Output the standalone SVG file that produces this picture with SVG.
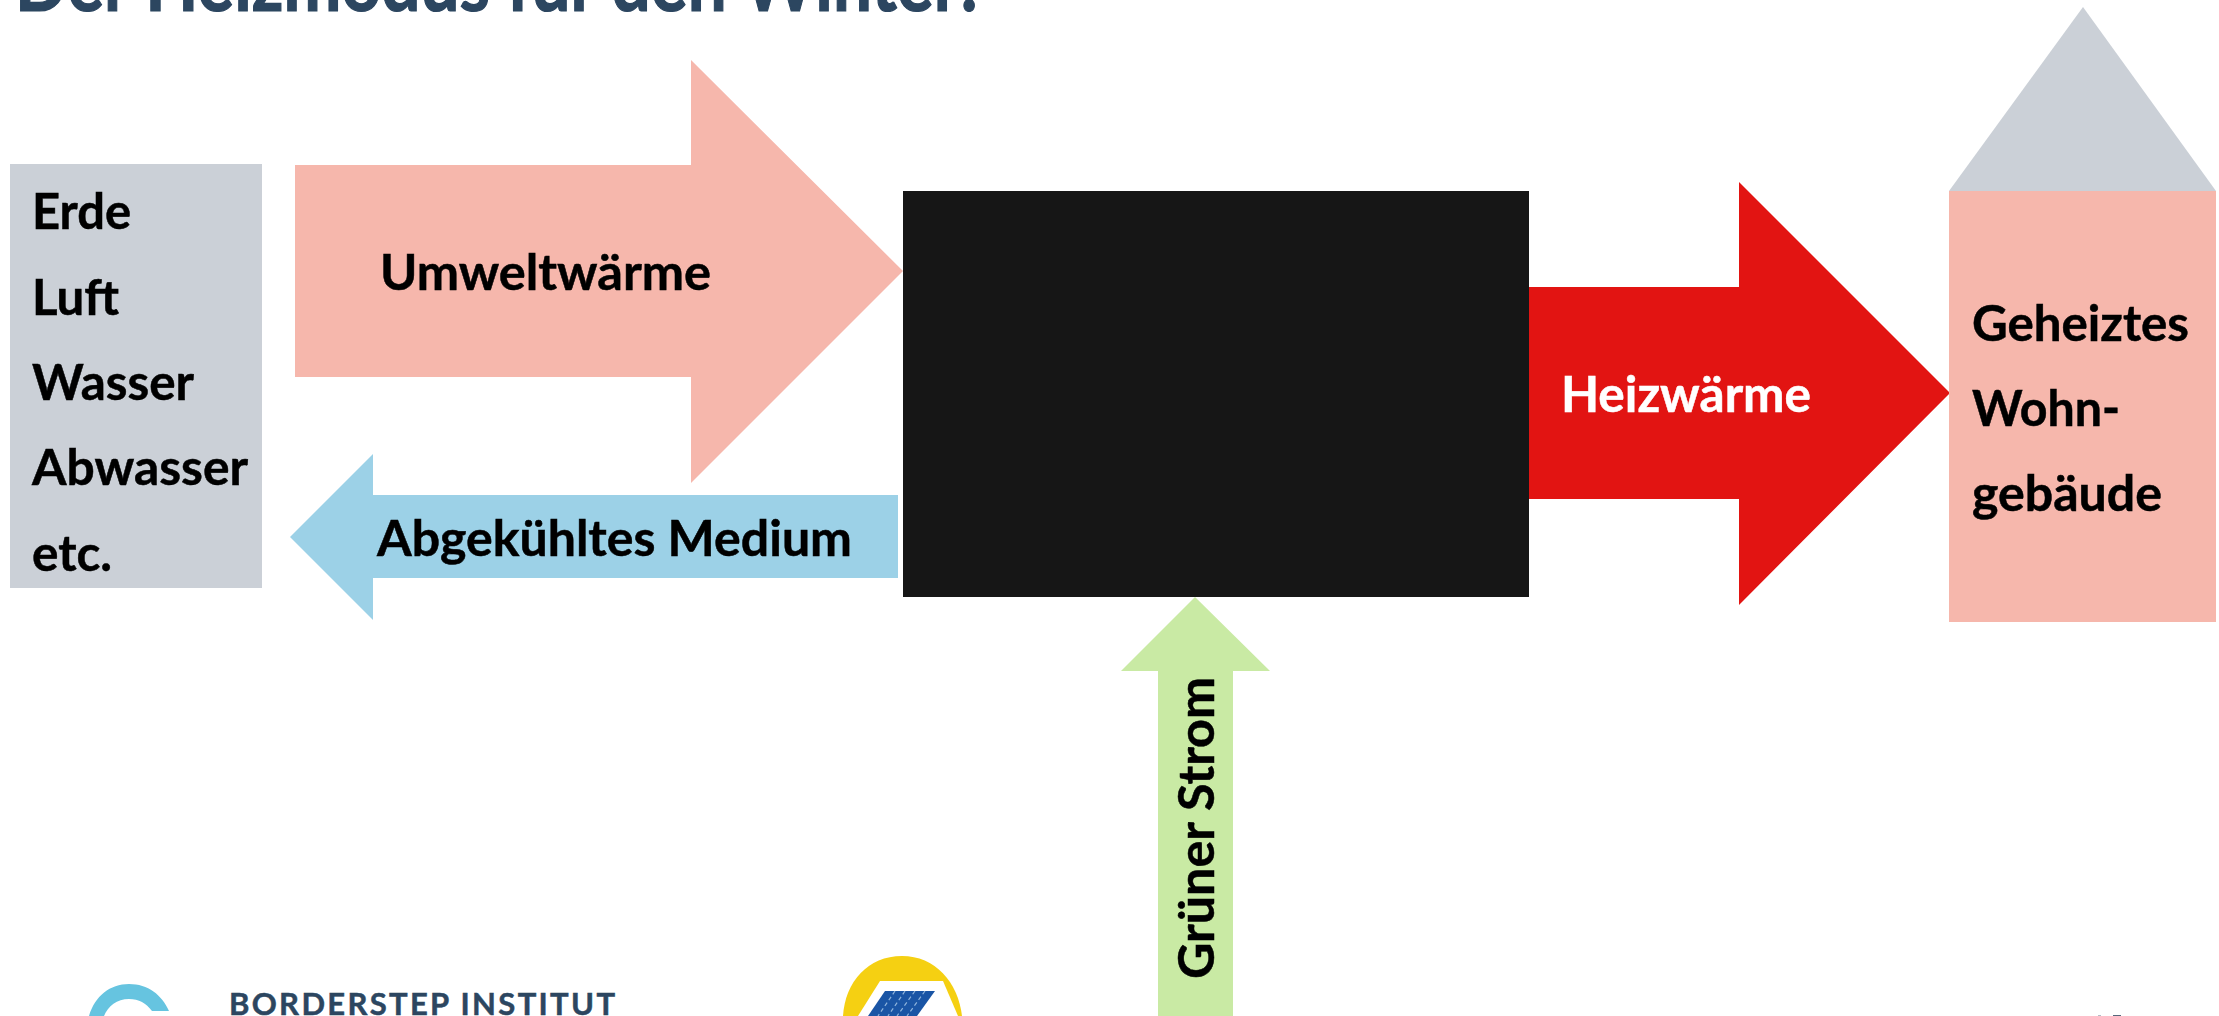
<svg xmlns="http://www.w3.org/2000/svg" width="2219" height="1016" viewBox="0 0 2219 1016">
<style>
text{font-family:"Lato","Carlito","Liberation Sans",sans-serif;font-weight:700;fill:#000;font-size:50px;stroke:#000;stroke-width:.5px}
.title{fill:#2c4660;stroke:#2c4660;stroke-width:1.2px;font-size:80px}
.brand{fill:#2c4660;stroke:#2c4660;font-size:31px}
.white{fill:#fff;stroke:#fff}
.grey{fill:#cbd0d7}
.salmon{fill:#f6b7ac}
</style>
<rect width="2219" height="1016" fill="#fff"/>
<text class="title" x="15" y="11" textLength="964" lengthAdjust="spacingAndGlyphs">Der Heizmodus für den Winter!</text>
<g id="connectors">
<polygon id="arrow-umwelt" class="salmon" points="295,165 691,165 691,60 903,271 691,483 691,377 295,377"/>
<polygon id="arrow-medium" fill="#9cd1e7" points="290,537 373,454 373,495 898,495 898,578 373,578 373,620"/>
<polygon id="arrow-heiz" fill="#e21412" points="1529,287 1739,287 1739,182 1950,393 1739,605 1739,499 1529,499"/>
<polygon id="arrow-strom" fill="#c9eaa4" points="1195,597 1270,671 1233,671 1233,1016 1158,1016 1158,671 1121,671"/>
<text x="380" y="290" textLength="331" lengthAdjust="spacingAndGlyphs">Umweltwärme</text>
<text x="377" y="556" textLength="475" lengthAdjust="spacingAndGlyphs">Abgekühltes Medium</text>
<text class="white" x="1561" y="412" textLength="250" lengthAdjust="spacingAndGlyphs">Heizwärme</text>
<text transform="translate(1214 979) rotate(-90)" textLength="302" lengthAdjust="spacingAndGlyphs">Grüner Strom</text>
</g>
<g id="node-sources">
<rect class="grey" x="10" y="164" width="252" height="424"/>
<text x="32" y="229" textLength="99" lengthAdjust="spacingAndGlyphs">Erde</text>
<text x="32" y="315" textLength="87" lengthAdjust="spacingAndGlyphs">Luft</text>
<text x="32" y="400" textLength="162" lengthAdjust="spacingAndGlyphs">Wasser</text>
<text x="32" y="485" textLength="216" lengthAdjust="spacingAndGlyphs">Abwasser</text>
<text x="32" y="571" textLength="80" lengthAdjust="spacingAndGlyphs">etc.</text>
</g>
<g id="node-heatpump">
<rect x="903" y="191" width="626" height="406" fill="#161616"/>
</g>
<g id="node-house">
<polygon class="grey" points="2083,7 2216,191 1949,191"/>
<rect class="salmon" x="1949" y="191" width="267" height="431"/>
<text x="1972" y="341" textLength="217" lengthAdjust="spacingAndGlyphs">Geheiztes</text>
<text x="1972" y="426" textLength="148" lengthAdjust="spacingAndGlyphs">Wohn-</text>
<text x="1972" y="511" textLength="190" lengthAdjust="spacingAndGlyphs">gebäude</text>
</g>
<g id="logo-borderstep">
<path fill="#66c4e0" d="M89 1016C95 996 110 984 129 984C148 984 162 995 169 1011L152 1011C146 1003 139 999 129 999C117 999 108 1006 104 1016Z"/>
<text class="brand" x="229" y="1015" textLength="386">BORDERSTEP INSTITUT</text>
</g>
<g id="logo-solar">
<path fill="#f5d012" d="M843 1016C845 982 868 956 902 956C935 956 958 982 962 1016Z"/>
<polygon fill="#fff" points="880,981 943,981 958,1016 858,1016"/>
<polygon fill="#1a55a5" points="885,991 935,991 917,1016 868,1016"/>
<g stroke="#8fb4dc" stroke-width="1.2" stroke-dasharray="4 3" fill="none">
<path d="M895 991L878 1016M905 991L888 1016M915 991L897 1016M925 991L907 1016"/>
</g>
</g>
<g id="page-number-fragment">
<rect x="2098" y="1015" width="3" height="1" fill="#b4bcc5"/>
<rect x="2113" y="1015" width="8" height="1" fill="#56687c"/>
</g>
</svg>
